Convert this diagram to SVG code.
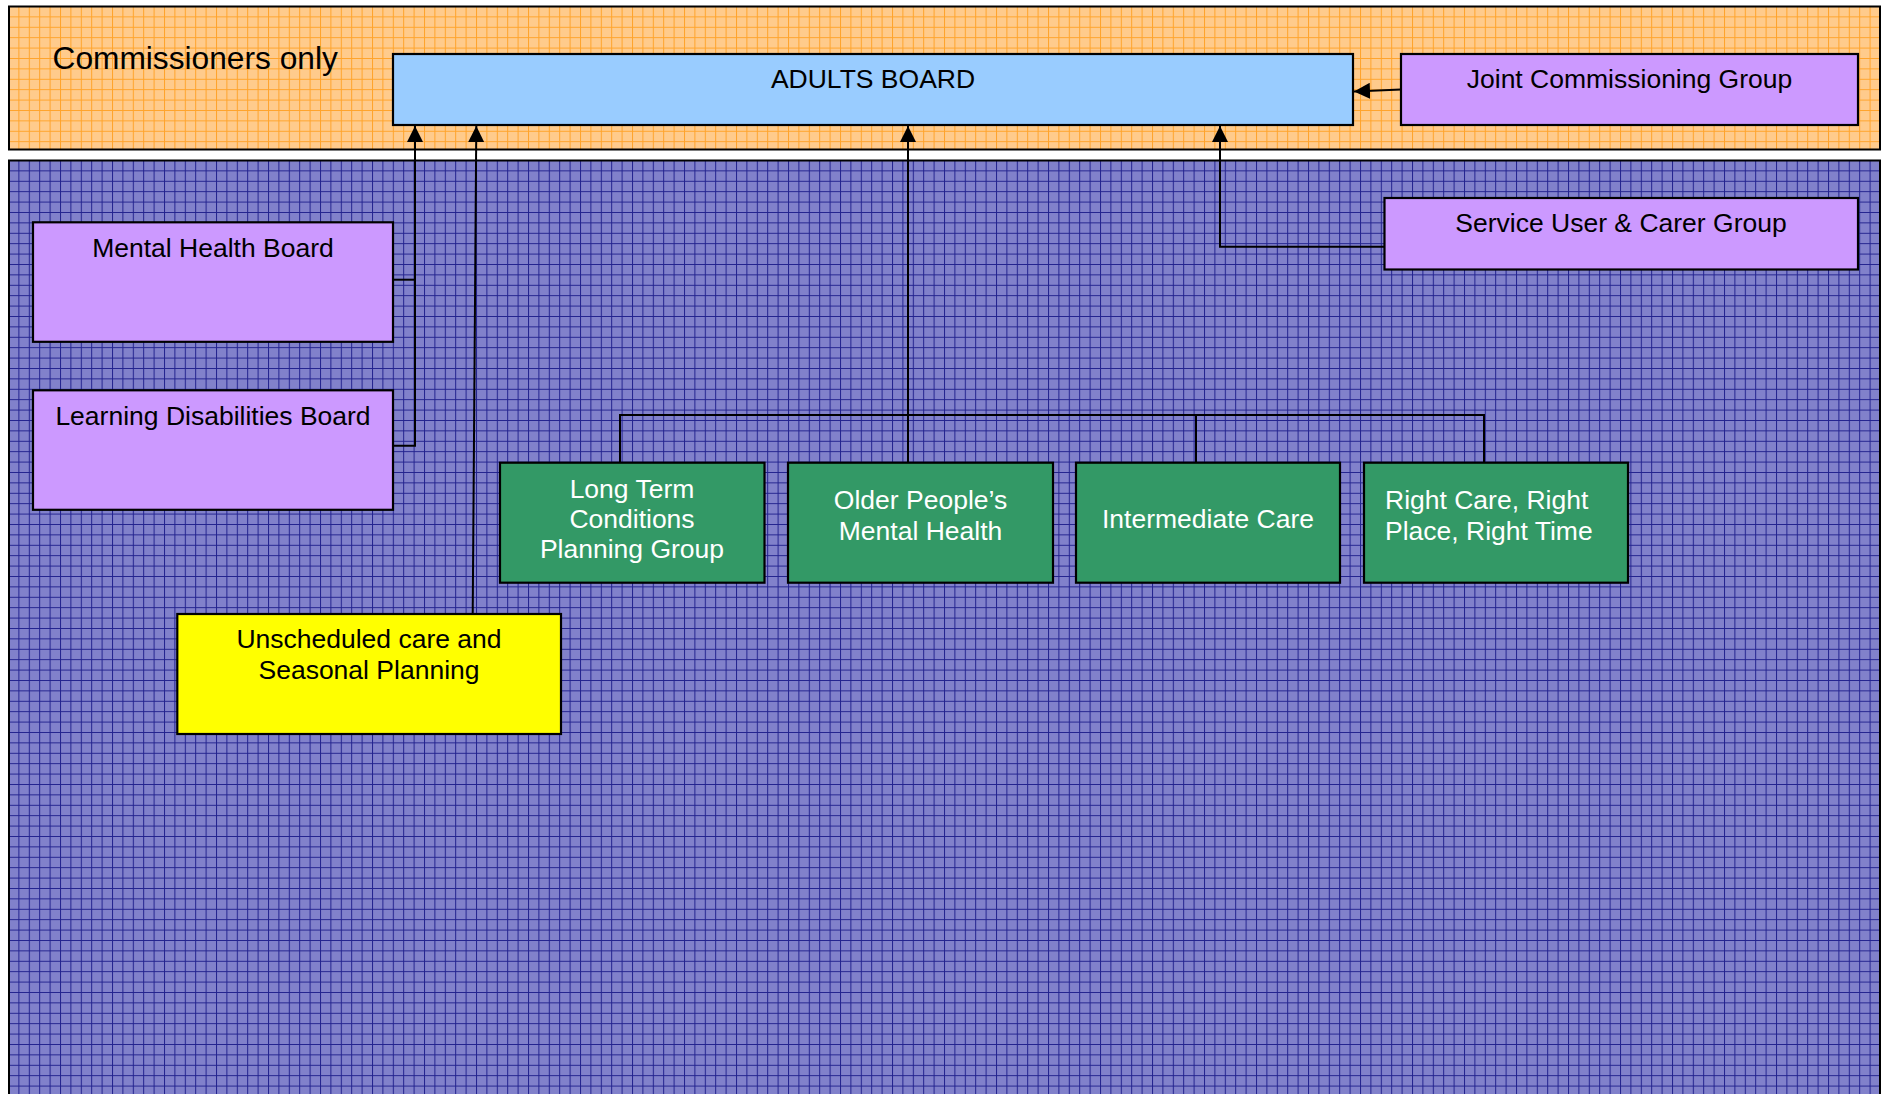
<svg xmlns="http://www.w3.org/2000/svg" width="1883" height="1094" viewBox="0 0 1883 1094">
<style>
text{font-family:"Liberation Sans",Arial,sans-serif;font-size:26.5px;}
.dk{fill:#000;text-anchor:middle;}
.wt{fill:#fff;text-anchor:middle;}
.box{stroke:#000;stroke-width:2.2;}
.purple{fill:#cc99ff;}
.green{fill:#339966;}
.conn{fill:none;stroke:#000;stroke-width:2;}
</style>
<defs>
<pattern id="orangeGrid" patternUnits="userSpaceOnUse" x="8" y="6" width="10.4" height="10.4">
<rect width="10.4" height="10.4" fill="#ffcb8c"/>
<path d="M0,0.5 H10.4 M0.5,0 V10.4" stroke="#ffa32a" stroke-width="1" fill="none"/>
</pattern>
<pattern id="blueGrid" patternUnits="userSpaceOnUse" x="8" y="160" width="10.4" height="10.4">
<rect width="10.4" height="10.4" fill="#8181cb"/>
<path d="M0,0.5 H10.4 M0.5,0 V10.4" stroke="#22228e" stroke-width="1" fill="none"/>
</pattern>
<marker id="arrow" markerUnits="userSpaceOnUse" markerWidth="16" markerHeight="16" refX="15" refY="7.5" orient="auto" viewBox="0 0 15 15">
<path d="M0,0 L15,7.5 L0,15 z" fill="#000"/>
</marker>
</defs>

<g id="region-commissioners">
<rect x="9" y="6.5" width="1871" height="143" fill="url(#orangeGrid)" stroke="#000" stroke-width="2"/>
<text x="52.5" y="68.5" style="font-size:31.7px" fill="#000">Commissioners only</text>
</g>
<g id="region-wider">
<rect x="9" y="160.5" width="1871" height="940" fill="url(#blueGrid)" stroke="#000" stroke-width="2"/>
</g>

<g id="connectors">
<line class="conn" x1="1401" y1="89.6" x2="1354" y2="91.4" marker-end="url(#arrow)"/>
<polyline class="conn" points="1388,246.7 1220,246.7 1220,126" marker-end="url(#arrow)"/>
<polyline class="conn" points="393,279.7 415,279.7"/>
<polyline class="conn" points="393,445.7 415,445.7 415,126" marker-end="url(#arrow)"/>
<line class="conn" x1="472.7" y1="614" x2="476.3" y2="126" marker-end="url(#arrow)"/>
<polyline class="conn" points="620,462.7 620,415 1484,415 1484,462.7"/>
<line class="conn" x1="1196" y1="415" x2="1196" y2="462.7"/>
<line class="conn" x1="908" y1="462.7" x2="908" y2="126" marker-end="url(#arrow)"/>
</g>

<g id="adults-board">
<rect class="box" x="393" y="54" width="960" height="71" fill="#99ccff"/>
<text class="dk" x="873" y="88.3">ADULTS BOARD</text>
</g>
<g id="joint-commissioning">
<rect class="box purple" x="1401" y="54" width="457" height="71"/>
<text class="dk" x="1629.5" y="88.3">Joint Commissioning Group</text>
</g>
<g id="service-user">
<rect class="box purple" x="1384.5" y="198" width="473.5" height="71.5"/>
<text class="dk" x="1621" y="232.3">Service User &amp; Carer Group</text>
</g>
<g id="mental-health">
<rect class="box purple" x="33" y="222.3" width="360" height="119.5"/>
<text class="dk" x="213" y="256.7">Mental Health Board</text>
</g>
<g id="learning-disabilities">
<rect class="box purple" x="33" y="390.3" width="360" height="119.5"/>
<text class="dk" x="213" y="424.7">Learning Disabilities Board</text>
</g>
<g id="long-term">
<rect class="box green" x="500" y="462.7" width="264.5" height="120"/>
<text class="wt" x="632" y="497.7">Long Term</text>
<text class="wt" x="632" y="528">Conditions</text>
<text class="wt" x="632" y="558.3">Planning Group</text>
</g>
<g id="older-people">
<rect class="box green" x="788" y="462.7" width="265" height="120"/>
<text class="wt" x="920.5" y="509.3">Older People’s</text>
<text class="wt" x="920.5" y="540">Mental Health</text>
</g>
<g id="intermediate">
<rect class="box green" x="1076" y="462.7" width="264" height="120"/>
<text class="wt" x="1208" y="527.5">Intermediate Care</text>
</g>
<g id="right-care">
<rect class="box green" x="1364" y="462.7" width="264" height="120"/>
<text x="1385" y="509.3" fill="#fff">Right Care, Right</text>
<text x="1385" y="540" fill="#fff">Place, Right Time</text>
</g>
<g id="unscheduled">
<rect class="box" x="177.3" y="614" width="383.7" height="120" fill="#ffff00"/>
<text class="dk" x="369" y="648.3">Unscheduled care and</text>
<text class="dk" x="369" y="679.3">Seasonal Planning</text>
</g>
</svg>
